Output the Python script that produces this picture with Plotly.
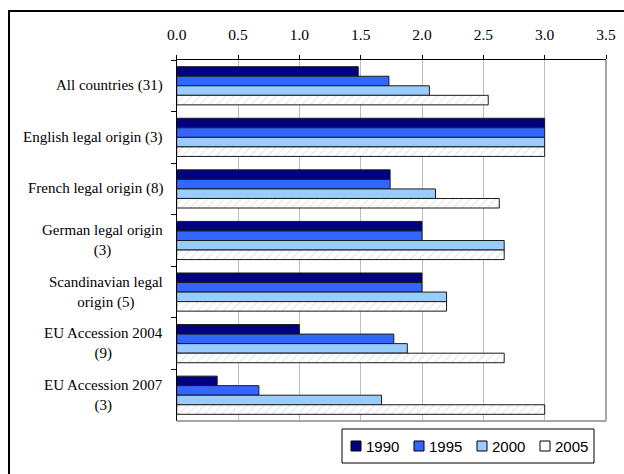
import plotly.graph_objects as go

# Category labels (top to bottom) and series values
categories = [
    "All countries (31)",
    "English legal origin (3)",
    "French legal origin (8)",
    "German legal origin<br>(3)",
    "Scandinavian legal<br>origin (5)",
    "EU Accession 2004<br>(9)",
    "EU Accession 2007<br>(3)",
]
years = ["1990", "1995", "2000", "2005"]
v1990 = [1.48, 3.0, 1.74, 2.0, 2.0, 1.0, 0.33]
v1995 = [1.73, 3.0, 1.74, 2.0, 2.0, 1.77, 0.67]
v2000 = [2.06, 3.0, 2.11, 2.67, 2.2, 1.88, 1.67]
v2005 = [2.54, 3.0, 2.63, 2.67, 2.2, 2.67, 3.0]
x_ticks = [0.0, 0.5, 1.0, 1.5, 2.0, 2.5, 3.0, 3.5]

W, H = 624, 474
series = [v1990, v1995, v2000, v2005]
fills = ["#000080", "#3366FF", "#99CCFF", "#FFFFFF"]

fig = go.Figure()
for name, vals, col in zip(years, series, fills):
    marker = dict(color=col, line=dict(color="#1a1a1a", width=1))
    if name == "2005":
        marker["pattern"] = dict(shape="/", fgcolor="#d4d4d4", bgcolor="#FFFFFF",
                                 size=6, solidity=0.25)
    fig.add_trace(go.Bar(name=name, y=categories, x=vals, orientation="h",
                         marker=marker, showlegend=False))

x0px, x1px, y0px, y1px = 176.7, 606, 60, 421


def px(x):
    return x / W


def py(y):
    return 1 - y / H


fig.update_layout(
    width=W, height=H,
    margin=dict(l=0, r=0, t=0, b=0, autoexpand=False),
    paper_bgcolor="white", plot_bgcolor="white",
    barmode="group", bargap=0.26, bargroupgap=0,
    xaxis=dict(domain=[px(x0px), px(x1px)], range=[0, 3.5], side="top",
               tickvals=x_ticks, ticktext=[f"{t:.1f}" for t in x_ticks],
               ticks="outside", ticklen=4, tickcolor="black",
               ticklabelstandoff=9,
               showline=True, linecolor="black", linewidth=1,
               showgrid=True, gridcolor="#bdbdbd", gridwidth=1,
               zeroline=False, automargin=False,
               tickfont=dict(family="Liberation Serif", size=15.5, color="black")),
    yaxis=dict(domain=[py(y1px), py(y0px)], autorange="reversed",
               type="category", showticklabels=False,
               ticks="outside", ticklen=5, tickcolor="black", tickson="boundaries",
               showline=True, linecolor="black", linewidth=1,
               showgrid=False, zeroline=False, automargin=False),
)

# Category labels, centred multi-line text right-aligned against the axis
for cat in categories:
    fig.add_annotation(x=px(165), xref="paper", y=cat, yref="y",
                       text=cat, showarrow=False, xanchor="right", align="center",
                       font=dict(family="Liberation Serif", size=15, color="black"))

# Grey frame edges on the right and bottom of the plotting area
fig.add_shape(type="line", xref="paper", yref="paper",
              x0=px(x1px), x1=px(x1px), y0=py(y1px), y1=py(y0px),
              line=dict(color="#a6a6a6", width=2))
fig.add_shape(type="line", xref="paper", yref="paper",
              x0=px(x0px), x1=px(x1px), y0=py(y1px), y1=py(y1px),
              line=dict(color="#a6a6a6", width=2))

# Legend box with swatches and year labels
fig.add_shape(type="rect", xref="paper", yref="paper",
              x0=px(342), x1=px(594), y0=py(463), y1=py(429),
              line=dict(color="black", width=1), fillcolor="white")
for i, (name, col) in enumerate(zip(years, fills)):
    sx = 351 + i * 63
    fig.add_shape(type="rect", xref="paper", yref="paper",
                  x0=px(sx), x1=px(sx + 10), y0=py(451), y1=py(441),
                  line=dict(color="black", width=1), fillcolor=col)
    fig.add_annotation(x=px(sx + 13), xref="paper", y=py(446), yref="paper",
                       text=name, showarrow=False, xanchor="left", yanchor="middle",
                       font=dict(family="Liberation Sans", size=15, color="black"))

# Outer chart border
fig.add_shape(type="rect", xref="paper", yref="paper",
              x0=px(9), x1=1.2, y0=-0.2, y1=py(11),
              line=dict(color="black", width=2), fillcolor="rgba(0,0,0,0)",
              layer="below")

fig.write_html("out.html")
